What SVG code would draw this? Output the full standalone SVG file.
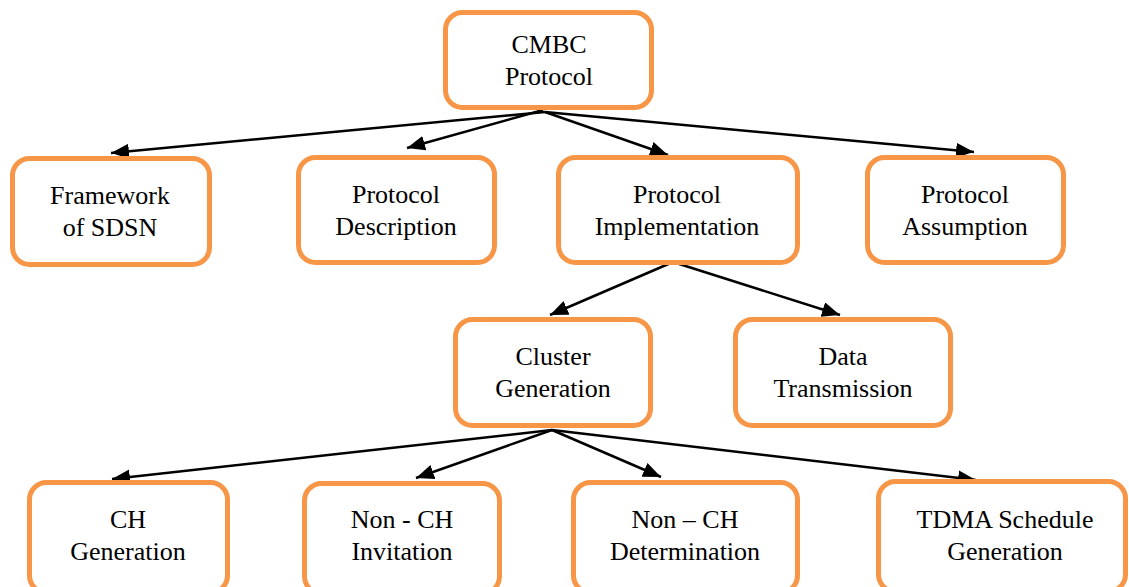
<svg xmlns="http://www.w3.org/2000/svg" width="1129" height="587" viewBox="0 0 1129 587">
<style>
.box{fill:#ffffff;stroke:#F79646;stroke-width:5}
text{font-family:"Liberation Serif","DejaVu Serif",serif;font-size:26px;fill:#000000;text-anchor:middle}
.edge{stroke:#000000;stroke-width:2.5;fill:none;marker-end:url(#arr)}
</style>
<defs>
<marker id="arr" markerUnits="userSpaceOnUse" markerWidth="20" markerHeight="16" refX="18" refY="7.5" orient="auto">
<path d="M0,0 L18,7.5 L0,15 Z" fill="#000000"/>
</marker>
</defs>
<rect width="1129" height="587" fill="#ffffff"/>
<g id="connectors">
<line class="edge" x1="545" y1="112" x2="111" y2="153"/>
<line class="edge" x1="543" y1="110" x2="407" y2="148"/>
<line class="edge" x1="545" y1="112" x2="668" y2="155"/>
<line class="edge" x1="545" y1="112" x2="974" y2="152"/>
<line class="edge" x1="673" y1="262" x2="550" y2="315"/>
<line class="edge" x1="673" y1="262" x2="840" y2="315"/>
<line class="edge" x1="552" y1="430" x2="112" y2="479"/>
<line class="edge" x1="552" y1="430" x2="416" y2="478"/>
<line class="edge" x1="552" y1="430" x2="661" y2="477"/>
<line class="edge" x1="552" y1="430" x2="976" y2="480"/>
</g>
<g id="cmbc">
<rect class="box" x="445.5" y="12.5" width="206" height="95" rx="17"/>
<text x="549" y="53">CMBC</text>
<text x="549" y="85">Protocol</text>
</g>
<g id="framework">
<rect class="box" x="12.5" y="158.5" width="197" height="106" rx="17"/>
<text x="110" y="204">Framework</text>
<text x="110" y="236">of SDSN</text>
</g>
<g id="description">
<rect class="box" x="298.5" y="157.5" width="196" height="105" rx="17"/>
<text x="396" y="203">Protocol</text>
<text x="396" y="235">Description</text>
</g>
<g id="implementation">
<rect class="box" x="558.5" y="157.5" width="239" height="105" rx="17"/>
<text x="677" y="203">Protocol</text>
<text x="677" y="235">Implementation</text>
</g>
<g id="assumption">
<rect class="box" x="867.5" y="157.5" width="196" height="105" rx="17"/>
<text x="965" y="203">Protocol</text>
<text x="965" y="235">Assumption</text>
</g>
<g id="cluster">
<rect class="box" x="455.5" y="319.5" width="195" height="106" rx="17"/>
<text x="553" y="365">Cluster</text>
<text x="553" y="397">Generation</text>
</g>
<g id="data">
<rect class="box" x="735.5" y="319.5" width="215" height="106" rx="17"/>
<text x="843" y="365">Data</text>
<text x="843" y="397">Transmission</text>
</g>
<g id="chgen">
<rect class="box" x="29.5" y="482.5" width="198" height="110" rx="17"/>
<text x="128" y="528">CH</text>
<text x="128" y="560">Generation</text>
</g>
<g id="noninv">
<rect class="box" x="304.5" y="483.5" width="195" height="110" rx="17"/>
<text x="402" y="528">Non - CH</text>
<text x="402" y="560">Invitation</text>
</g>
<g id="nondet">
<rect class="box" x="573.5" y="482.5" width="224" height="110" rx="17"/>
<text x="685" y="528">Non – CH</text>
<text x="685" y="560">Determination</text>
</g>
<g id="tdma">
<rect class="box" x="878.5" y="481.5" width="247" height="110" rx="17"/>
<text x="1005" y="528">TDMA Schedule</text>
<text x="1005" y="560">Generation</text>
</g>
</svg>
